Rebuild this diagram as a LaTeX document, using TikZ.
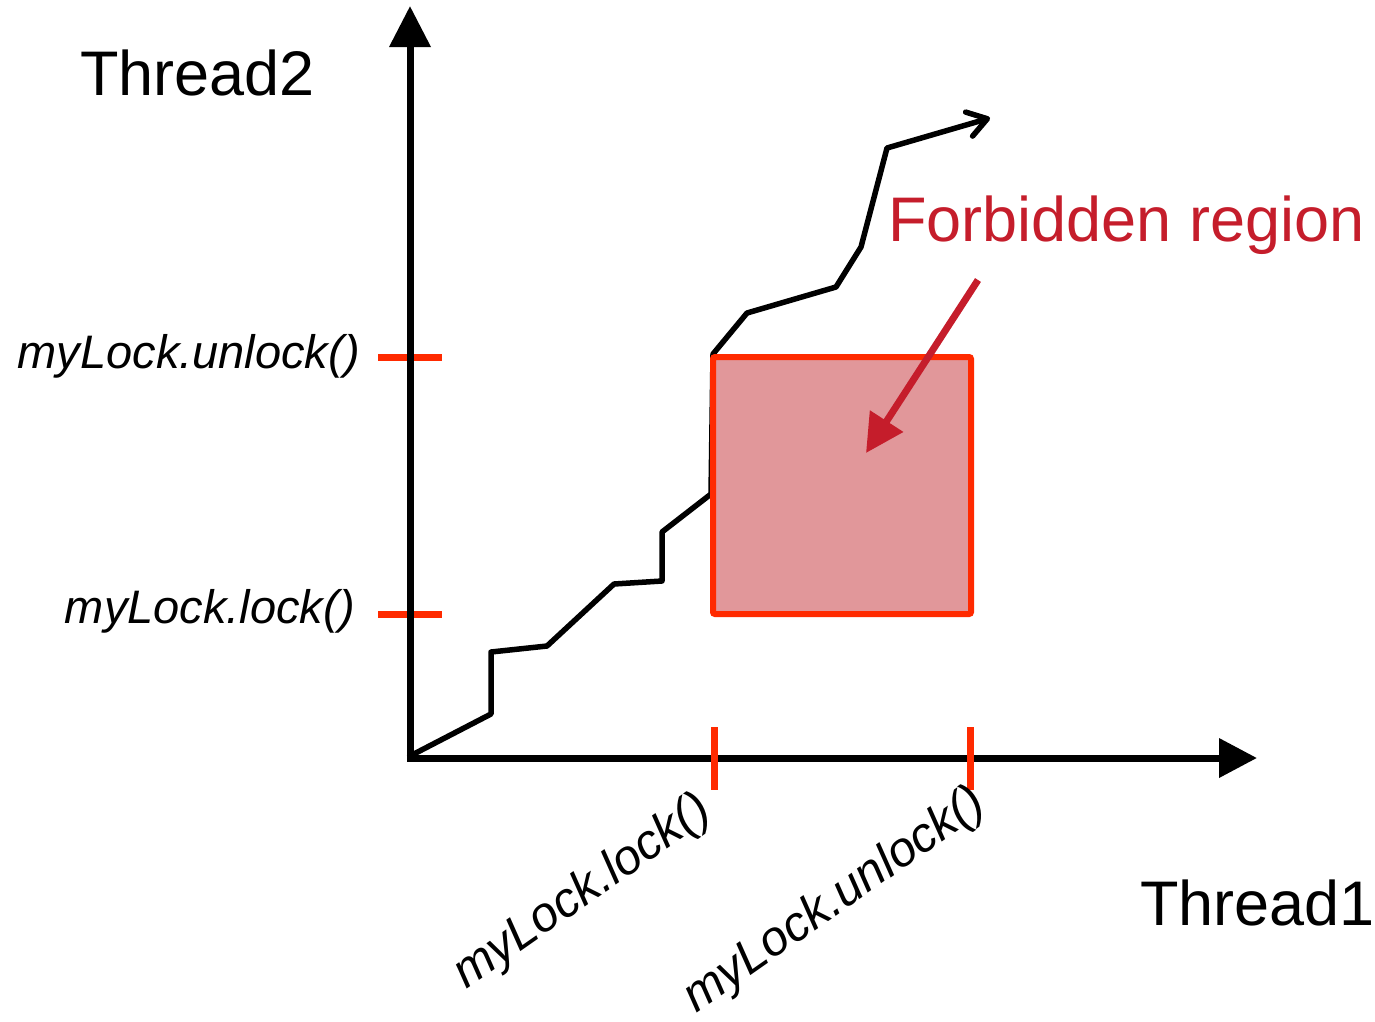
\documentclass[tikz,border=0pt]{standalone}
\usepackage{fontspec}
\setmainfont{Liberation Sans}
\usetikzlibrary{arrows.meta}
\definecolor{lockred}{HTML}{FF2A00}
\definecolor{zonefill}{HTML}{E1979A}
\definecolor{notered}{HTML}{C51D2B}
\begin{document}
\begin{tikzpicture}[x=1pt,y=-1pt,
  axisline/.style={line width=7pt,draw=black},
  locktick/.style={line width=7pt,draw=lockred},
  bigtext/.style={inner sep=0pt,font=\fontsize{63}{70}\selectfont},
  calltext/.style={inner sep=0pt,font=\fontsize{47}{52}\selectfont\itshape},
  slanttext/.style={inner sep=0pt,font=\fontsize{49}{54}\selectfont\itshape,rotate=35,anchor=base west},
  trace/.style={line width=5.5pt,line join=round,line cap=round,
    -{Straight Barb[length=19pt,width=25pt,round]}},
  zone/.style={draw=lockred,line width=6pt,fill=zonefill,rounded corners=2pt,
    minimum width=258pt,minimum height=257pt,inner sep=0pt},
  pointer/.style={draw=notered,line width=7pt,
    -{Triangle[length=38pt,width=38pt]}}]
\useasboundingbox (0,0) rectangle (1375,1021);

% axis ends
\coordinate (origin) at (410,758);
\coordinate (ytop) at (410,6);
\coordinate (xend) at (1257,758);

% ticks on the Thread2 axis
\coordinate (ulA) at (378,357); \coordinate (ulB) at (442,357);
\coordinate (lkA) at (378,614); \coordinate (lkB) at (442,614);
\draw[locktick] (ulA) -- (ulB);
\draw[locktick] (lkA) -- (lkB);

% axes
\draw[axisline,-{Triangle[length=41pt,width=40pt]}] (410,761.5) -- (ytop);
\draw[axisline,-{Triangle[length=38pt,width=38pt]}] (406.5,758) -- (xend);

% ticks on the Thread1 axis
\coordinate (xlA) at (714,727); \coordinate (xlB) at (714,790);
\coordinate (xuA) at (970,727); \coordinate (xuB) at (970,790);
\draw[locktick] (xlA) -- (xlB);
\draw[locktick] (xuA) -- (xuB);

% execution trace
\coordinate (p0) at (410,756);
\coordinate (p1) at (491,714);
\coordinate (p2) at (491,652);
\coordinate (p3) at (547,646);
\coordinate (p4) at (614,584);
\coordinate (p5) at (662,581);
\coordinate (p6) at (662,532);
\coordinate (p7) at (711,494);
\coordinate (p8) at (713,354);
\coordinate (p9) at (747,313);
\coordinate (p10) at (836,287);
\coordinate (p11) at (861,247);
\coordinate (p12) at (887,148);
\coordinate (p13) at (990,118);
\draw[trace] (p0) -- (p1) -- (p2) -- (p3) -- (p4) -- (p5) -- (p6) -- (p7)
  -- (p8) -- (p9) -- (p10) -- (p11) -- (p12) -- (p13);

% forbidden region
\node[zone] (region) at (842,485.5) {};

% labels
\node[bigtext,anchor=base west] (thread2) at (80,95) {Thread2};
\node[bigtext,anchor=base west] (thread1) at (1140,925) {Thread1};
\node[bigtext,anchor=base west,text=notered] (forbid) at (888,241) {Forbidden region};
\node[calltext,anchor=base east] (yunlock) at (360,368) {myLock.unlock()};
\node[calltext,anchor=base east] (ylock) at (355,623) {myLock.lock()};
\node[slanttext] (xlock) at (466,990) {myLock.lock()};
\node[slanttext] (xunlock) at (696,1014) {myLock.unlock()};

% pointer into the region
\coordinate (ptrA) at (978,280);
\coordinate (ptrB) at (866,453);
\draw[pointer] (ptrA) -- (ptrB);
\end{tikzpicture}
\end{document}
